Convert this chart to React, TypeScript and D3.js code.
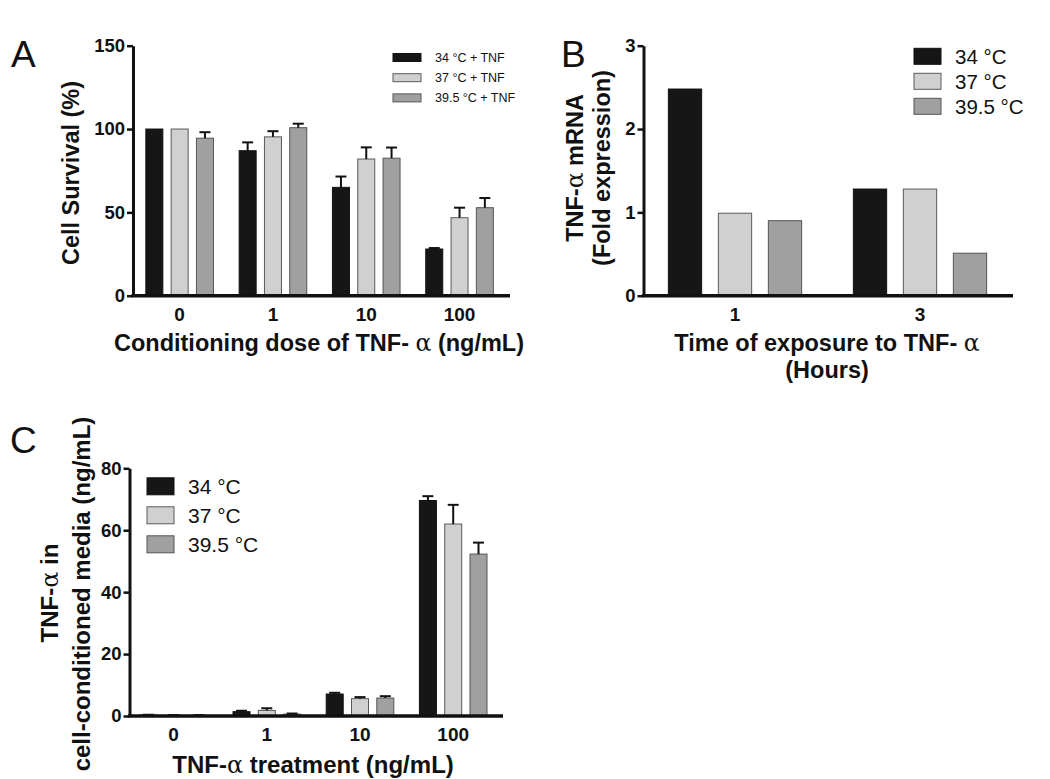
import React, { useEffect, useRef } from 'react';
import * as d3 from 'd3';

// Panel A: cell survival
const dosesA = ['0', '1', '10', '100'];
const seriesA = ['34 °C + TNF', '37 °C + TNF', '39.5 °C + TNF'];
const survival34 = [100, 87, 65, 28];
const survival37 = [100, 95.3, 82, 46.8];
const survival395 = [94.5, 100.8, 82.5, 52.8];
const survivalErr34 = [0, 5, 6.5, 0.6];
const survivalErr37 = [0, 3.4, 7, 6];
const survivalErr395 = [3.6, 2.4, 6.4, 5.8];
const ticksA = [0, 50, 100, 150];

// Panel B: mRNA fold expression
const hoursB = ['1', '3'];
const seriesB = ['34 °C', '37 °C', '39.5 °C'];
const fold34 = [2.48, 1.28];
const fold37 = [0.99, 1.28];
const fold395 = [0.9, 0.51];
const ticksB = [0, 1, 2, 3];

// Panel C: TNF in conditioned media
const dosesC = ['0', '1', '10', '100'];
const seriesC = ['34 °C', '37 °C', '39.5 °C'];
const media34 = [0.3, 1.4, 7.1, 69.6];
const media37 = [0.2, 1.8, 5.6, 62];
const media395 = [0.2, 0.6, 5.8, 52.3];
const mediaErr34 = [0.1, 0.3, 0.4, 1.4];
const mediaErr37 = [0.1, 0.7, 0.5, 6.2];
const mediaErr395 = [0.1, 0.2, 0.6, 3.7];
const ticksC = [0, 20, 40, 60, 80];

const fills = ['#161616', '#d0d0d0', '#a0a0a0'];
const strokes = ['#111', '#5a5a5a', '#555'];
const FONT = "'Liberation Sans', Arial, Helvetica, sans-serif";

function drawPanel(svg, cfg) {
    const g = svg.append('g');
    const n = cfg.groups.length;

    const x = d3.scaleBand()
        .domain(cfg.groups)
        .range([cfg.x0, cfg.x0 + cfg.step * n]);

    const half = (2 * cfg.barStep + cfg.barW) / 2;
    const inner = d3.scaleBand()
        .domain(['0', '1', '2'])
        .range([-half, half])
        .paddingInner(1 - cfg.barW / cfg.barStep)
        .paddingOuter(0);

    const y = d3.scaleLinear()
        .domain([0, cfg.max])
        .range([cfg.yBot, cfg.yTop]);

    const rows = [];
    cfg.values.forEach((vals, s) => {
        vals.forEach((v, i) => {
            rows.push({ s, group: cfg.groups[i], v, e: cfg.errors ? cfg.errors[s][i] : 0 });
        });
    });

    const bx = d => x(d.group) + x.bandwidth() / 2 + inner(String(d.s));

    // bars
    g.selectAll('rect.bar')
        .data(rows)
        .enter()
        .append('rect')
        .attr('x', d => bx(d))
        .attr('y', d => y(d.v))
        .attr('width', inner.bandwidth())
        .attr('height', d => cfg.yBot - y(d.v))
        .attr('fill', d => fills[d.s])
        .attr('stroke', d => strokes[d.s])
        .attr('stroke-width', 1);

    // error bars (upper half only)
    if (cfg.errors) {
        const eb = g.selectAll('g.err')
            .data(rows.filter(d => d.e > 0))
            .enter()
            .append('g')
            .attr('stroke', '#111')
            .attr('stroke-width', 2);
        eb.append('line')
            .attr('x1', d => bx(d) + inner.bandwidth() / 2)
            .attr('x2', d => bx(d) + inner.bandwidth() / 2)
            .attr('y1', d => y(d.v))
            .attr('y2', d => y(d.v + d.e));
        eb.append('line')
            .attr('x1', d => bx(d) + inner.bandwidth() / 2 - cfg.capW / 2)
            .attr('x2', d => bx(d) + inner.bandwidth() / 2 + cfg.capW / 2)
            .attr('y1', d => y(d.v + d.e))
            .attr('y2', d => y(d.v + d.e));
    }

    // y axis
    const yAxis = g.append('g')
        .attr('transform', `translate(${cfg.axisX},0)`)
        .call(d3.axisLeft(y).tickValues(cfg.ticks).tickFormat(d3.format('d'))
            .tickSize(6).tickSizeOuter(0).tickPadding(2));
    yAxis.select('.domain').attr('stroke', '#111').attr('stroke-width', 3);
    yAxis.selectAll('.tick line').attr('stroke', '#111').attr('stroke-width', 2.5);
    yAxis.selectAll('.tick text')
        .attr('fill', '#111')
        .style('font-family', FONT)
        .style('font-weight', 'bold')
        .style('font-size', '18.5px');

    // x axis line
    g.append('line')
        .attr('x1', cfg.axisX - 1.5)
        .attr('x2', cfg.axisEnd)
        .attr('y1', cfg.yBot)
        .attr('y2', cfg.yBot)
        .attr('stroke', '#111')
        .attr('stroke-width', 3.5);

    // x tick labels
    g.selectAll('text.xlab')
        .data(cfg.groups)
        .enter()
        .append('text')
        .attr('x', d => x(d) + x.bandwidth() / 2)
        .attr('y', cfg.yBot + 25)
        .attr('text-anchor', 'middle')
        .style('font-family', FONT)
        .style('font-weight', 'bold')
        .style('font-size', '19px')
        .attr('fill', '#111')
        .text(d => d);

    // legend
    const lg = g.append('g');
    cfg.series.forEach((name, i) => {
        const cy = cfg.legend.y + i * cfg.legend.gap;
        lg.append('rect')
            .attr('x', cfg.legend.x)
            .attr('y', cy - cfg.legend.h / 2)
            .attr('width', cfg.legend.w)
            .attr('height', cfg.legend.h)
            .attr('fill', fills[i])
            .attr('stroke', strokes[i])
            .attr('stroke-width', 1);
        lg.append('text')
            .attr('x', cfg.legend.tx)
            .attr('y', cy + cfg.legend.fs * 0.36)
            .style('font-family', FONT)
            .style('font-size', `${cfg.legend.fs}px`)
            .attr('fill', '#111')
            .text(name);
    });
}

// text helper: bold title with serif alpha
function addTitle(svg, x, y, parts, rotate, size = 22) {
    const t = svg.append('text')
        .attr('text-anchor', 'middle')
        .attr('fill', '#111')
        .style('font-family', FONT)
        .style('font-weight', 'bold')
        .style('font-size', `${size}px`)
        .attr('transform', rotate ? `translate(${x},${y}) rotate(-90)` : `translate(${x},${y})`);
    parts.forEach(p => {
        if (p === 'α') {
            t.append('tspan')
                .style('font-family', "'DejaVu Serif', serif")
                .style('font-weight', 'normal')
                .text('α');
        } else {
            t.append('tspan').text(p);
        }
    });
}

function App() {
    const svgRef = useRef();

    useEffect(() => {
        const svg = d3.select(svgRef.current);
        svg.selectAll('*').remove();

        drawPanel(svg, {
            groups: dosesA, series: seriesA,
            values: [survival34, survival37, survival395],
            errors: [survivalErr34, survivalErr37, survivalErr395],
            max: 150, ticks: ticksA,
            x0: 133, step: 93.3, barW: 17, barStep: 25.3, capW: 11,
            yTop: 45.7, yBot: 295.7, axisX: 133, axisEnd: 510,
            legend: { x: 393, y: 57.5, gap: 20.2, w: 28, h: 8, tx: 435, fs: 12.5 },
        });

        drawPanel(svg, {
            groups: hoursB, series: seriesB,
            values: [fold34, fold37, fold395],
            errors: null,
            max: 3, ticks: ticksB,
            x0: 642.5, step: 185, barW: 33.3, barStep: 50, capW: 0,
            yTop: 45.7, yBot: 295.7, axisX: 643.5, axisEnd: 1013,
            legend: { x: 914, y: 56.3, gap: 25, w: 27, h: 16, tx: 955, fs: 20.5 },
        });

        drawPanel(svg, {
            groups: dosesC, series: seriesC,
            values: [media34, media37, media395],
            errors: [mediaErr34, mediaErr37, mediaErr395],
            max: 80, ticks: ticksC,
            x0: 127, step: 93.2, barW: 17, barStep: 25.3, capW: 11,
            yTop: 468.3, yBot: 716, axisX: 129.5, axisEnd: 503,
            legend: { x: 147, y: 486.3, gap: 29, w: 27, h: 17, tx: 188, fs: 21 },
        });

        // axis titles
        addTitle(svg, 79, 173, ['Cell Survival (%)'], true, 23.5);
        addTitle(svg, 319, 351, ['Conditioning dose of TNF- ', 'α', ' (ng/mL)'], false, 23.5);

        addTitle(svg, 583, 168, ['TNF-', 'α', ' mRNA'], true, 23.5);
        addTitle(svg, 610, 168, ['(Fold expression)'], true, 23.5);
        addTitle(svg, 827, 351, ['Time of exposure to TNF- ', 'α'], false, 23.5);
        addTitle(svg, 827, 378, ['(Hours)'], false, 23.5);

        addTitle(svg, 58, 593, ['TNF-', 'α', ' in'], true, 24);
        addTitle(svg, 90, 594, ['cell-conditioned media (ng/mL)'], true, 24);
        addTitle(svg, 313, 773, ['TNF-', 'α', ' treatment (ng/mL)'], false, 24);

        // panel letters
        [['A', 11, 67], ['B', 561, 67], ['C', 10, 453]].forEach(([l, px, py]) => {
            svg.append('text')
                .attr('x', px)
                .attr('y', py)
                .style('font-family', FONT)
                .style('font-size', '37px')
                .attr('fill', '#111')
                .text(l);
        });
    }, []);

    return (
        <svg
            ref={svgRef}
            width={1050}
            height={779}
            style={{ position: 'absolute', left: 0, top: 0, background: '#fff' }}
        ></svg>
    );
}

export default App;
